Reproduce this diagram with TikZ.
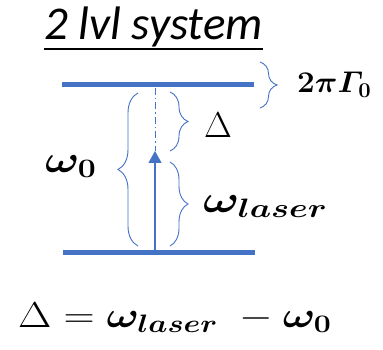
\RequirePackage{fix-cm}
\documentclass[tikz,border=0pt]{standalone}
\usepackage{amsmath}
\usepackage{bm}
\usepackage{graphicx}
\usepackage{fontspec}
\newfontfamily\titlefont{Carlito}
\usetikzlibrary{arrows.meta,decorations.pathreplacing}
\definecolor{lvlblue}{HTML}{4472C4}
\begin{document}
\begin{tikzpicture}[x=1pt,y=-1pt,
  level/.style={lvlblue,line width=5pt},
  bracestyle/.style={lvlblue,line width=0.9pt,decorate,decoration={brace,amplitude=#1}},
  lbl/.style={inner sep=0pt,anchor=base west},
]
\useasboundingbox (0,0) rectangle (383,350);
% levels
\coordinate (u1) at (62,85);
\coordinate (u2) at (254,85);
\coordinate (g1) at (63,252);
\coordinate (g2) at (255,252);
\draw[level] (u1) -- (u2);
\draw[level] (g1) -- (g2);
% laser arrow and dash-dot line
\coordinate (a0) at (155,250);
\coordinate (a1) at (155,151);
\coordinate (d0) at (155,88);
\draw[lvlblue,line width=1.2pt,-{Triangle[width=13pt,length=12pt]}] (a0) -- (a1);
\draw[lvlblue,line width=1pt,dash pattern=on 7pt off 3pt on 1.5pt off 3pt] (d0) -- (a1);
% braces
\coordinate (bw0a) at (138,246);
\coordinate (bw0b) at (138,93);
\draw[bracestyle=20] (bw0a) -- (bw0b);
\coordinate (bda) at (170,92);
\coordinate (bdb) at (170,151);
\draw[bracestyle=18] (bda) -- (bdb);
\coordinate (bla) at (170,162);
\coordinate (blb) at (170,246);
\draw[bracestyle=18] (bla) -- (blb);
\coordinate (bga) at (260,62);
\coordinate (bgb) at (260,108);
\draw[bracestyle=17] (bga) -- (bgb);
% title
\node[lbl] (title) at (44,40) {\titlefont\itshape\fontsize{47}{47}\selectfont 2 lvl system};
\draw[line width=2pt] ([yshift=-9pt]title.base west) -- ([yshift=-9pt]title.base east);
% labels
\node[lbl] (w0) at (45,172) {\scalebox{1.2}[1]{\fontsize{38}{38}\selectfont$\boldsymbol{\omega_0}$}};
\node[lbl] (dl) at (204,138) {\fontsize{36}{36}\selectfont$\Delta$};
\node[lbl] (wl) at (203,212) {\scalebox{1.27}[1]{\fontsize{38}{38}\selectfont$\boldsymbol{\omega_{laser}}$}};
\node[lbl] (gam) at (297,93) {\scalebox{1.05}[1]{\fontsize{30}{30}\selectfont\boldmath$2\pi\mathnormal{\Gamma}_0$}};
% equation
\node[lbl] (eq) at (18,327) {\scalebox{1.2}[1]{\fontsize{36}{36}\selectfont$\Delta = \boldsymbol{\omega_{laser}}\; - \boldsymbol{\omega_0}$}};
\end{tikzpicture}
\end{document}
